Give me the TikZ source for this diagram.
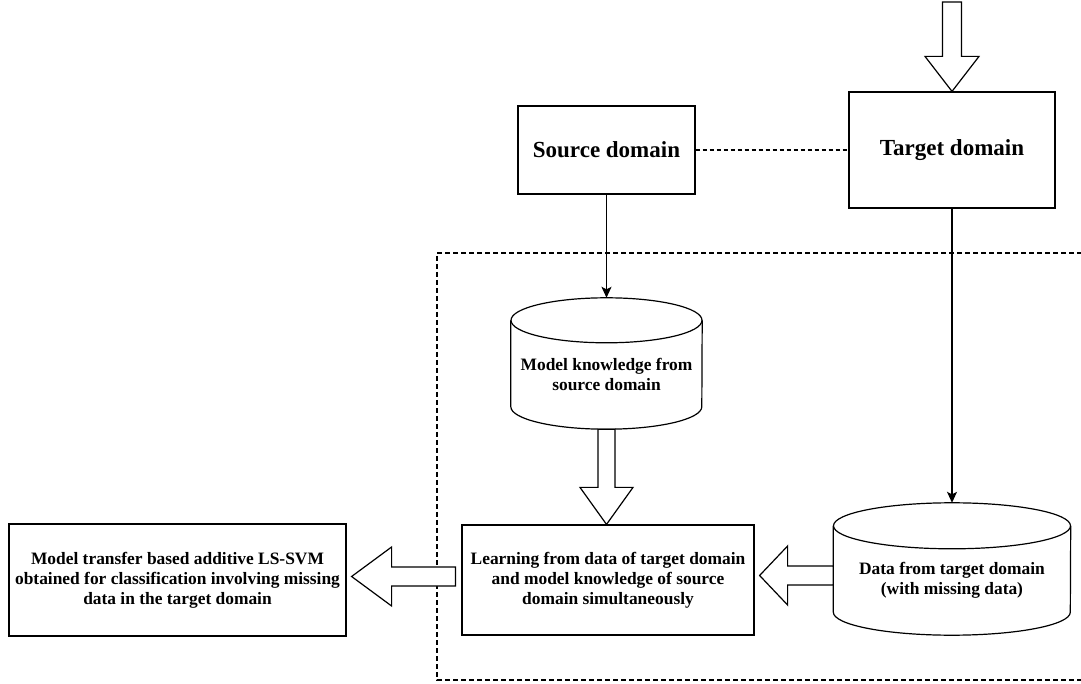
\documentclass[tikz,border=0pt]{standalone}
\usepackage{fontspec}
\setmainfont{Liberation Serif}
\usetikzlibrary{calc,arrows.meta}

% outline of a drum (cylinder) around a text node:
% #1 node name, #2 x radius, #3 y radius of the end ellipses
\newcommand\drumoutline[3]{%
  \draw[line width=1.2pt] ($(#1.north)+(0,#3)$) ellipse [x radius=#2, y radius=#3];
  \draw[line width=1.2pt] ($(#1.north west)+(0,#3)$) -- (#1.south west)
    arc [start angle=180, end angle=360, x radius=#2, y radius=#3]
    -- ($(#1.north east)+(0,#3)$);
}

\tikzset{
  box/.style={draw, line width=1.2pt, inner sep=0pt, align=center,
    font=\bfseries\fontsize{17.4}{20}\selectfont},
  headbox/.style={box, font=\bfseries\fontsize{23}{26}\selectfont},
  drumtext/.style={inner sep=0pt, align=center,
    font=\bfseries\fontsize{17.4}{20}\selectfont},
  link/.style={line width=1.2pt, -{Stealth[length=11pt,width=10pt,inset=2.5pt]}},
  peer/.style={line width=1.1pt, dash pattern=on 4pt off 3pt},
  region/.style={line width=1.1pt, dash pattern=on 5pt off 3pt},
  % hollow block arrow: shaft half width, head half width, head length
  blockarrow/.style n args={3}{draw, fill=white, line width=1.2pt, line join=miter,
    to path={
      ($(\tikztostart)!#1pt!90:(\tikztotarget)$)
      -- ($(\tikztotarget)!#3pt!(\tikztostart)!#1pt!90:(\tikztotarget)$)
      -- ($(\tikztotarget)!#3pt!(\tikztostart)!#2pt!90:(\tikztotarget)$)
      -- (\tikztotarget)
      -- ($(\tikztotarget)!#3pt!(\tikztostart)!#2pt!-90:(\tikztotarget)$)
      -- ($(\tikztotarget)!#3pt!(\tikztostart)!#1pt!-90:(\tikztotarget)$)
      -- ($(\tikztostart)!#1pt!-90:(\tikztotarget)$)
      -- cycle}}
}

\begin{document}
\begin{tikzpicture}[x=1pt, y=1pt]
  \useasboundingbox (0,0) rectangle (1081,683);

  % domains
  \node[headbox, minimum width=177pt, minimum height=88pt] (src) at (606.5,533) {Source domain};
  \node[headbox, minimum width=206pt, minimum height=116pt] (tgt) at (952,533) {Target domain};
  \draw[peer] (src.east) -- (tgt.west);

  % learning region
  \draw[region] (1090,430) -- (437,430) -- (437,3) -- (1090,3);

  % stores
  \node[drumtext, minimum width=191pt, minimum height=63.5pt] (kb) at (606.5,308.25)
    {Model knowledge from\\source domain};
  \drumoutline{kb}{95.5pt}{22.5pt}
  \node[drumtext, minimum width=237pt, minimum height=63pt] (dat) at (952,102.5)
    {Data from target domain\\(with missing data)};
  \drumoutline{dat}{118.5pt}{23pt}

  % processing and result
  \node[box, minimum width=292pt, minimum height=110pt] (learn) at (608,103)
    {Learning from data of target domain\\and model knowledge of source\\domain simultaneously};
  \node[box, minimum width=337pt, minimum height=112pt] (out) at (177.5,103)
    {Model transfer based additive LS-SVM\\obtained for classification involving missing\\data in the target domain};

  % thin connectors
  \draw[link] (src.south) -- ([yshift=45pt]kb.north);
  \draw[link] (tgt.south) -- ([yshift=46pt]dat.north);

  % block arrows
  \coordinate (feed) at (952,681);
  \draw[blockarrow={9.5}{27}{35}] (feed) to (tgt.north);

  \coordinate (kbout) at ([yshift=-22.5pt]kb.south);
  \coordinate (learnin) at (kbout |- learn.north);
  \draw[blockarrow={8.5}{26.5}{37}] (kbout) to (learnin);

  \coordinate (datout) at ([yshift=5pt]dat.west);
  \coordinate (learnside) at (learn.east |- datout);
  \draw[blockarrow={9.5}{29.5}{28}] (datout) to ([xshift=5pt]learnside);

  \coordinate (learnout) at ([xshift=-6pt,yshift=3.5pt]learn.west);
  \coordinate (outside) at (out.east |- learnout);
  \draw[blockarrow={9.5}{29.5}{40}] (learnout) to ([xshift=5pt]outside);
\end{tikzpicture}
\end{document}
